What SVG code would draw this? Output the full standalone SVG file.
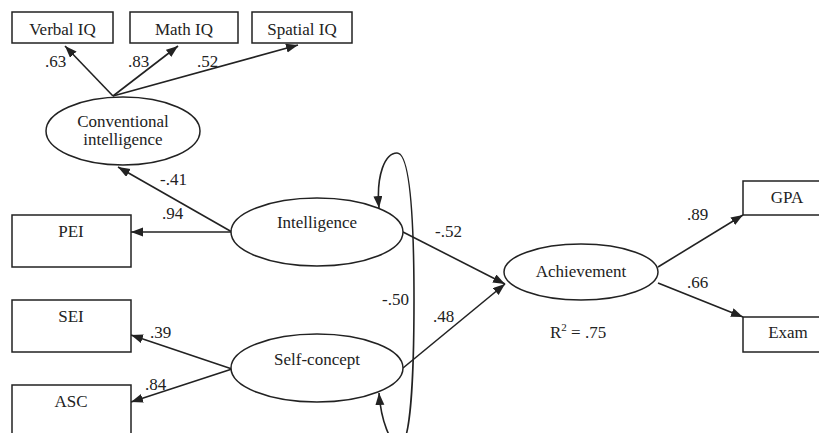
<svg xmlns="http://www.w3.org/2000/svg" width="819" height="433" viewBox="0 0 819 433">
<style>
text{font-family:"Liberation Serif","Times New Roman",serif;font-size:17px;fill:#222;}
.c{text-anchor:middle;}
.box{fill:#fff;stroke:#222;stroke-width:1.5;}
.ell{fill:#fff;stroke:#222;stroke-width:1.5;}
.ln{fill:none;stroke:#222;stroke-width:1.6;}
</style>
<defs>
<marker id="ah" markerUnits="userSpaceOnUse" markerWidth="13" markerHeight="10" refX="12" refY="4.5" orient="auto-start-reverse">
<path d="M0,0 L12,4.5 L0,9 z" fill="#222"/>
</marker>
</defs>
<rect width="819" height="433" fill="#fff"/>
<g id="connectors">
<path class="ln" d="M113,96 L65,46" marker-end="url(#ah)"/>
<path class="ln" d="M113,96 L178,46" marker-end="url(#ah)"/>
<path class="ln" d="M113,96 L298,45" marker-end="url(#ah)"/>
<path class="ln" d="M232,232 L118,167" marker-end="url(#ah)"/>
<path class="ln" d="M232,232 L131,232" marker-end="url(#ah)"/>
<path class="ln" d="M232,369 L131,335" marker-end="url(#ah)"/>
<path class="ln" d="M232,369 L131,402" marker-end="url(#ah)"/>
<path class="ln" d="M403,232 L505,284" marker-end="url(#ah)"/>
<path class="ln" d="M403,368 L505,284" marker-end="url(#ah)"/>
<path class="ln" d="M658,267 L743,215" marker-end="url(#ah)"/>
<path class="ln" d="M658,283 L743,317" marker-end="url(#ah)"/>
<path class="ln" d="M379,208 C376,175 385,153 397,153 C410,153 414,220 414,300 C414,380 410,445 400,445 C390,445 381,420 379,393" marker-start="url(#ah)" marker-end="url(#ah)"/>
<text x="45" y="67">.63</text>
<text x="128" y="67">.83</text>
<text x="197" y="67">.52</text>
<text x="160" y="185">-.41</text>
<text x="162" y="219">.94</text>
<text x="150" y="338">.39</text>
<text x="145" y="390">.84</text>
<text x="382" y="305">-.50</text>
<text x="435" y="237">-.52</text>
<text x="433" y="322">.48</text>
<text x="687" y="220">.89</text>
<text x="687" y="288">.66</text>
<text x="550" y="338">R<tspan font-size="11" dy="-7">2</tspan><tspan dy="7"> = .75</tspan></text>
</g>
<g id="verbal-iq"><rect class="box" x="12" y="12" width="101" height="31"/><text class="c" x="62.5" y="35">Verbal IQ</text></g>
<g id="math-iq"><rect class="box" x="130" y="12" width="108" height="31"/><text class="c" x="184" y="35">Math IQ</text></g>
<g id="spatial-iq"><rect class="box" x="252" y="12" width="100" height="31"/><text class="c" x="302" y="35">Spatial IQ</text></g>
<g id="conventional-intelligence"><ellipse class="ell" cx="123" cy="131" rx="77" ry="34"/><text class="c" x="123" y="127">Conventional</text><text class="c" x="123" y="145">intelligence</text></g>
<g id="pei"><rect class="box" x="12" y="215" width="119" height="52"/><text class="c" x="71" y="237">PEI</text></g>
<g id="sei"><rect class="box" x="12" y="300" width="119" height="52"/><text class="c" x="71" y="322">SEI</text></g>
<g id="asc"><rect class="box" x="12" y="385" width="119" height="60"/><text class="c" x="71" y="407">ASC</text></g>
<g id="intelligence"><ellipse class="ell" cx="317" cy="232" rx="86" ry="34"/><text class="c" x="317" y="228">Intelligence</text></g>
<g id="self-concept"><ellipse class="ell" cx="317" cy="368" rx="86" ry="34"/><text class="c" x="317" y="365">Self-concept</text></g>
<g id="achievement"><ellipse class="ell" cx="581" cy="272" rx="77" ry="28"/><text class="c" x="581" y="277">Achievement</text></g>
<g id="gpa"><rect class="box" x="743" y="181" width="90" height="34"/><text class="c" x="787" y="203">GPA</text></g>
<g id="exam"><rect class="box" x="743" y="317" width="90" height="35"/><text class="c" x="788" y="338">Exam</text></g>
</svg>
